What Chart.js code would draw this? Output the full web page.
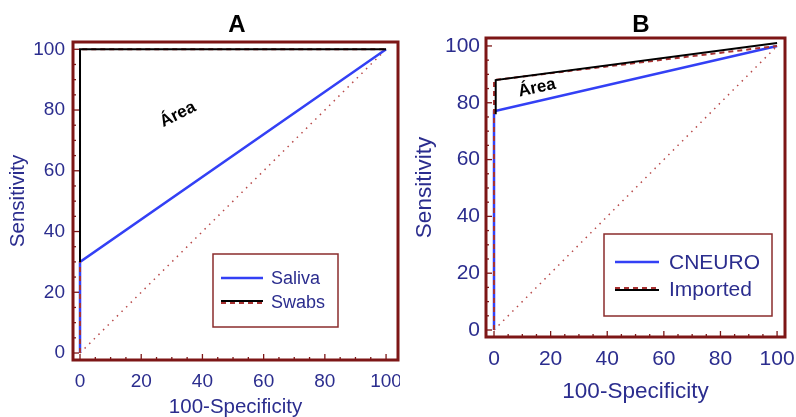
<!DOCTYPE html>
<html>
<head>
<meta charset="utf-8">
<script src="https://cdn.jsdelivr.net/npm/chart.js@4.4.1/dist/chart.umd.min.js"></script>
<style>
  html, body { margin: 0; padding: 0; background: #fff; }
  #wrap { position: relative; width: 796px; height: 417px; overflow: hidden; }
  canvas { position: absolute; top: 0; }
  #chartA { left: 0; }
  #chartB { left: 400px; }
</style>
</head>
<body>
<div id="wrap">
  <canvas id="chartA" width="400" height="417"></canvas>
  <canvas id="chartB" width="396" height="417"></canvas>
</div>
<script>
// tick labels
var tickValues = [0, 20, 40, 60, 80, 100];

// chance diagonal
var chanceX = [0, 100];
var chanceY = [0, 100];

// panel A
var salivaX = [0, 0, 100];
var salivaY = [0, 30, 100];
var swabsX = [0, 0, 100];
var swabsY = [0, 100, 100];
var areaAX = [0, 0, 100];
var areaAY = [30, 100, 100];

// panel B
var cneuroX = [0, 0, 100];
var cneuroY = [0, 77, 100];
var importedX = [0, 0, 100];
var importedY = [0, 88, 100];
var areaBX = [0.6, 0.6, 100];
var areaBY = [76, 88, 101];

var labelsA = ["Saliva", "Swabs"];
var labelsB = ["CNEURO", "Imported"];

var FONT = "'Liberation Sans', Arial, sans-serif";
var INK = '#2b2d8e';
var MAROON = '#7d1616';

function pts(xs, ys) {
    return xs.map(function(x, i) { return { x: x, y: ys[i] }; });
}

function line(label, xs, ys, color, width, dash) {
    return {
        label: label,
        data: pts(xs, ys),
        showLine: true,
        borderColor: color,
        backgroundColor: color,
        borderWidth: width,
        borderDash: dash || [],
        pointRadius: 0,
        fill: false
    };
}

// frame, inward ticks, panel letter, "Área" note and boxed legend
var decor = {
    id: 'decor',
    afterDatasetsDraw: function(chart, args, o) {
        var ctx = chart.ctx, a = chart.chartArea;
        var sx = chart.scales.x, sy = chart.scales.y;
        ctx.save();
        ctx.strokeStyle = MAROON;
        ctx.lineWidth = 1.3;
        for (var v = 0; v <= 100; v += 5) {
            var len = v % 20 === 0 ? 6 : 3;
            var px = sx.getPixelForValue(v);
            ctx.beginPath();
            ctx.moveTo(px, a.bottom);
            ctx.lineTo(px, a.bottom - len);
            ctx.stroke();
            var py = sy.getPixelForValue(v);
            ctx.beginPath();
            ctx.moveTo(a.left, py);
            ctx.lineTo(a.left + len, py);
            ctx.stroke();
        }
        ctx.lineWidth = 3;
        ctx.strokeRect(a.left, a.top, a.right - a.left, a.bottom - a.top);

        // panel letter
        ctx.fillStyle = '#000';
        ctx.font = 'bold 24px ' + FONT;
        ctx.textAlign = 'center';
        ctx.textBaseline = 'middle';
        ctx.fillText(o.title, o.titleX, 25);

        // area note
        ctx.save();
        ctx.translate(sx.getPixelForValue(o.note.x), sy.getPixelForValue(o.note.y));
        ctx.rotate(o.note.angle * Math.PI / 180);
        ctx.font = 'bold 17px ' + FONT;
        ctx.fillText('Área', 0, 0);
        ctx.restore();

        // legend
        var L = o.legend;
        ctx.fillStyle = '#fff';
        ctx.fillRect(L.x, L.y, L.w, L.h);
        ctx.strokeStyle = '#8a2c2c';
        ctx.lineWidth = 1.5;
        ctx.strokeRect(L.x, L.y, L.w, L.h);
        ctx.font = L.size + 'px ' + FONT;
        ctx.textAlign = 'left';
        L.items.forEach(function(it, i) {
            var y = L.y + L.row0 + i * L.gap;
            it.sets.forEach(function(s) {
                var ds = chart.data.datasets[s.ds];
                ctx.strokeStyle = ds.borderColor;
                ctx.lineWidth = ds.borderWidth;
                ctx.setLineDash(ds.borderDash);
                ctx.beginPath();
                ctx.moveTo(L.x + L.x0, y + s.dy);
                ctx.lineTo(L.x + L.x1, y + s.dy);
                ctx.stroke();
            });
            ctx.setLineDash([]);
            ctx.fillStyle = INK;
            ctx.fillText(it.label, L.x + L.tx, y + 1);
        });
        ctx.restore();
    }
};

function noPad(s) {
    s.paddingLeft = s.paddingRight = s.paddingTop = s.paddingBottom = 0;
}

function axes(o) {
    return {
        x: {
            type: 'linear', min: o.xmin, max: o.xmax,
            afterBuildTicks: function(s) { s.ticks = tickValues.map(function(v) { return { value: v }; }); },
            afterFit: function(s) { s.height = o.xh; noPad(s); },
            grid: { display: false, drawTicks: false },
            border: { display: false },
            ticks: { padding: o.xpad, color: INK, font: { family: FONT, size: o.tick }, maxRotation: 0 },
            title: { display: true, text: '100-Specificity', color: INK, font: { family: FONT, size: o.ttl }, padding: { top: 0, bottom: o.xtp } }
        },
        y: {
            type: 'linear', min: o.ymin, max: o.ymax,
            afterBuildTicks: function(s) { s.ticks = tickValues.map(function(v) { return { value: v }; }); },
            afterFit: function(s) { s.width = o.yw; noPad(s); },
            grid: { display: false, drawTicks: false },
            border: { display: false },
            ticks: { padding: o.ypad, color: INK, font: { family: FONT, size: o.tick } },
            title: { display: true, text: 'Sensitivity', color: INK, font: { family: FONT, size: o.ttl }, padding: { top: o.ytp, bottom: 0 } }
        }
    };
}

Chart.defaults.font.family = FONT;

// first dataset is drawn on top
new Chart(document.getElementById('chartA').getContext('2d'), {
    type: 'scatter',
    data: {
        datasets: [
            line('', areaAX, areaAY, '#000', 2),
            line(labelsA[1], swabsX, swabsY, '#a83232', 2, [5, 4]),
            line(labelsA[0], salivaX, salivaY, '#3340f5', 2.5),
            line('', chanceX, chanceY, '#b84a4a', 1.5, [1.5, 5])
        ]
    },
    options: {
        responsive: false,
        animation: false,
        layout: { padding: { top: 42, right: 2, left: 0, bottom: 0 } },
        plugins: {
            legend: { display: false },
            tooltip: { enabled: false },
            decor: {
                title: 'A', titleX: 237,
                note: { x: 32, y: 78.5, angle: -27 },
                legend: {
                    x: 213, y: 254, w: 125, h: 73, size: 18, row0: 24, gap: 24, x0: 8, x1: 50, tx: 58,
                    items: [
                        { label: labelsA[0], sets: [{ ds: 2, dy: 0 }] },
                        { label: labelsA[1], sets: [{ ds: 1, dy: 1 }, { ds: 0, dy: -1 }] }
                    ]
                }
            }
        },
        scales: axes({ xmin: -2.29, xmax: 103.9, ymin: -2.3, ymax: 102.4, xh: 57, yw: 73,
                       xpad: 10, ypad: 8, tick: 19, ttl: 20.5, xtp: -3, ytp: 6 })
    },
    plugins: [decor]
});

new Chart(document.getElementById('chartB').getContext('2d'), {
    type: 'scatter',
    data: {
        datasets: [
            line('', areaBX, areaBY, '#000', 2),
            line(labelsB[1], importedX, importedY, '#a83232', 2, [5, 4]),
            line(labelsB[0], cneuroX, cneuroY, '#3340f5', 2.5),
            line('', chanceX, chanceY, '#b84a4a', 1.5, [1.5, 5])
        ]
    },
    options: {
        responsive: false,
        animation: false,
        layout: { padding: { top: 38, right: 11, left: 0, bottom: 0 } },
        plugins: {
            legend: { display: false },
            tooltip: { enabled: false },
            decor: {
                title: 'B', titleX: 241,
                note: { x: 15.2, y: 85.2, angle: -12 },
                legend: {
                    x: 204, y: 234, w: 168, h: 82, size: 21, row0: 28, gap: 27, x0: 11, x1: 55, tx: 65,
                    items: [
                        { label: labelsB[0], sets: [{ ds: 2, dy: 0 }] },
                        { label: labelsB[1], sets: [{ ds: 1, dy: -1 }, { ds: 0, dy: 1 }] }
                    ]
                }
            }
        },
        scales: axes({ xmin: -2.83, xmax: 102.8, ymin: -2.46, ymax: 102.8, xh: 80, yw: 86,
                       xpad: 10, ypad: 6, tick: 21, ttl: 22.5, xtp: 11.5, ytp: 11.5 })
    },
    plugins: [decor]
});
</script>
</body>
</html>
